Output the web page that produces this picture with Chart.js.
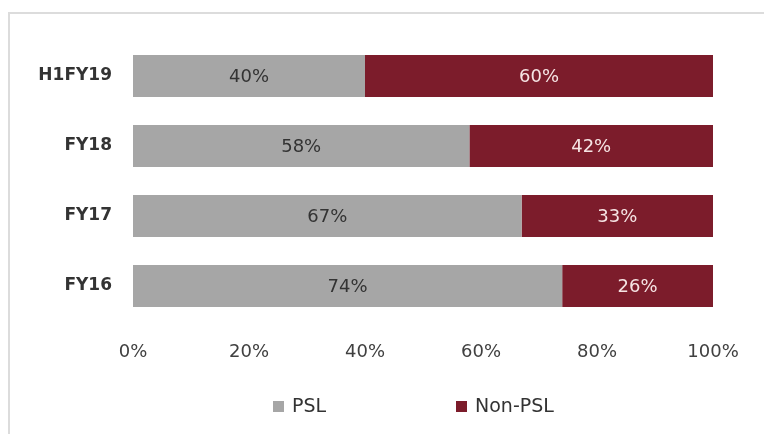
<!DOCTYPE html>
<html>
<head>
<meta charset="utf-8">
<script src="https://cdn.jsdelivr.net/npm/chart.js@4.4.0/dist/chart.umd.min.js"></script>
<style>
    html, body { margin: 0; padding: 0; background: #fff; }
    #wrap { position: relative; width: 764px; height: 434px; overflow: hidden; }
    #frame {
        position: absolute; left: 8px; top: 12px; right: 0; bottom: 0;
        border-top: 2px solid #dcdcdc; border-left: 2px solid #dcdcdc;
    }
    #chart { position: absolute; left: 0; top: 0; }
</style>
</head>
<body>
<div id="wrap">
    <div id="frame"></div>
    <canvas id="chart" width="764" height="434"></canvas>
</div>
<script>
/* ===== DATA ===== */
const categories = ["H1FY19", "FY18", "FY17", "FY16"];
const pslShare = [40, 58, 67, 74];
const nonPslShare = [60, 42, 33, 26];
const xTicks = [0, 20, 40, 60, 80, 100];

const FONT = "'DejaVu Sans', 'Liberation Sans', sans-serif";
const GREY = "#a6a6a6";
const MAROON = "#7c1c2b";

/* ===== VALUE LABELS INSIDE BARS ===== */
const barLabels = {
    id: "barLabels",
    afterDatasetsDraw(chart) {
        const ctx = chart.ctx;
        ctx.save();
        ctx.font = "18px " + FONT;
        ctx.textAlign = "center";
        ctx.textBaseline = "middle";
        chart.data.datasets.forEach((ds, i) => {
            const meta = chart.getDatasetMeta(i);
            meta.data.forEach((bar, j) => {
                ctx.fillStyle = ds.labelColor;
                ctx.fillText(ds.data[j] + "%", (bar.x + bar.base) / 2, bar.y + 1);
            });
        });
        ctx.restore();
    }
};

/* ===== LEGEND UNDER THE AXIS ===== */
const bottomLegend = {
    id: "bottomLegend",
    afterDraw(chart, args, opts) {
        const ctx = chart.ctx;
        ctx.save();
        ctx.font = "19px " + FONT;
        ctx.textBaseline = "middle";
        chart.data.datasets.forEach((ds, i) => {
            const x = opts.xs[i];
            ctx.fillStyle = ds.backgroundColor;
            ctx.fillRect(x, opts.y - 5, 11, 11);
            ctx.fillStyle = "#333";
            ctx.fillText(ds.label, x + 19, opts.y + 1);
        });
        ctx.restore();
    }
};

new Chart(document.getElementById("chart"), {
    type: "bar",
    data: {
        labels: categories,
        datasets: [
            { label: "PSL", data: pslShare, backgroundColor: GREY, labelColor: "#333" },
            { label: "Non-PSL", data: nonPslShare, backgroundColor: MAROON, labelColor: "#f6e4e4" }
        ]
    },
    options: {
        indexAxis: "y",
        responsive: false,
        animation: false,
        events: [],
        layout: { padding: { top: 41, right: 51, left: 0, bottom: 0 } },
        datasets: {
            bar: { barPercentage: 0.6, categoryPercentage: 1 }
        },
        scales: {
            x: {
                stacked: true,
                min: 0,
                max: 100,
                grid: { display: false, drawTicks: false },
                border: { display: false },
                afterBuildTicks(scale) {
                    scale.ticks = xTicks.map(v => ({ value: v }));
                },
                afterFit(scale) { scale.height = 113; },
                ticks: {
                    padding: 21,
                    color: "#404040",
                    font: { family: FONT, size: 18 },
                    callback: v => v + "%"
                }
            },
            y: {
                stacked: true,
                grid: { display: false, drawTicks: false },
                border: { display: false },
                afterFit(scale) { scale.width = 133; },
                ticks: {
                    padding: 21,
                    color: "#333",
                    font: { family: FONT, size: 17, weight: "bold" }
                }
            }
        },
        plugins: {
            legend: { display: false },
            tooltip: { enabled: false },
            bottomLegend: { xs: [273, 456], y: 406 }
        }
    },
    plugins: [barLabels, bottomLegend]
});
</script>
</body>
</html>
